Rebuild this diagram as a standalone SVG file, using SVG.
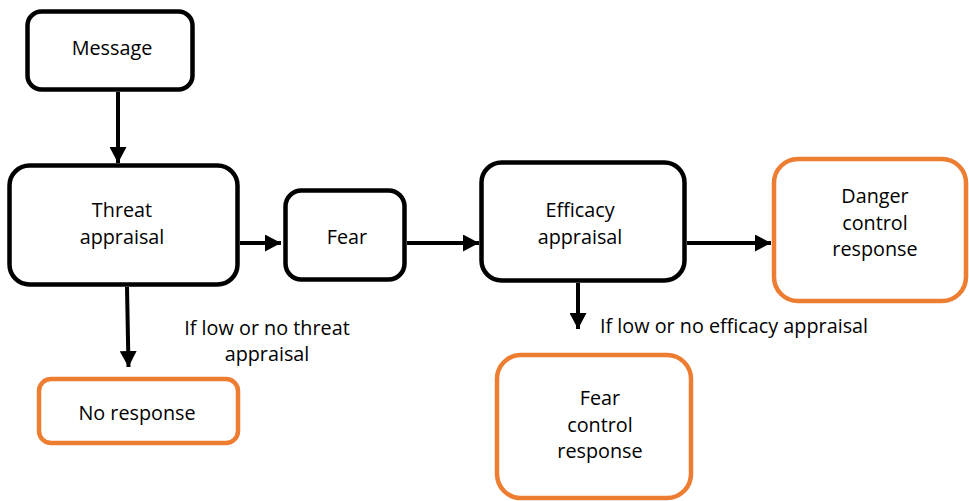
<svg xmlns="http://www.w3.org/2000/svg" width="969" height="501" viewBox="0 0 969 501">
<style>
.box{fill:#fff;stroke:#000;stroke-width:4.5}
.obox{fill:#fff;stroke:#ED7D31;stroke-width:4.5}
.t{font-family:"Open Sans","Noto Sans","Liberation Sans",sans-serif;font-size:19.8px;fill:#000;text-anchor:middle}
.tl{font-family:"Open Sans","Noto Sans","Liberation Sans",sans-serif;font-size:19.8px;fill:#000}
.c{stroke:#000;stroke-width:4;fill:none}
</style>
<defs>
<marker id="ah" markerUnits="userSpaceOnUse" markerWidth="17" markerHeight="17" refX="16" refY="8.5" orient="auto">
<path d="M0,0 L16,8.5 L0,17 z" fill="#000"/>
</marker>
</defs>
<rect width="969" height="501" fill="#fff"/>
<g id="connectors">
<line class="c" x1="118" y1="92" x2="118" y2="163" marker-end="url(#ah)"/>
<line class="c" x1="240" y1="243" x2="281" y2="243" marker-end="url(#ah)"/>
<line class="c" x1="407" y1="243" x2="479" y2="243" marker-end="url(#ah)"/>
<line class="c" x1="687" y1="243" x2="771" y2="243" marker-end="url(#ah)"/>
<line class="c" x1="127" y1="287" x2="128.5" y2="367" marker-end="url(#ah)"/>
<line class="c" x1="578" y1="283" x2="578" y2="329" marker-end="url(#ah)"/>
</g>
<g id="message">
<rect class="box" x="27.5" y="11.5" width="165" height="78" rx="14"/>
<text class="t" x="112" y="55">Message</text>
</g>
<g id="threat">
<rect class="box" x="9.5" y="165.5" width="228" height="119" rx="20"/>
<text class="t" x="122" y="217">Threat</text>
<text class="t" x="122" y="244">appraisal</text>
</g>
<g id="fear">
<rect class="box" x="285.5" y="190.5" width="119" height="89" rx="16"/>
<text class="t" x="347" y="244">Fear</text>
</g>
<g id="efficacy">
<rect class="box" x="481.5" y="162.5" width="203" height="118" rx="20"/>
<text class="t" x="580" y="217">Efficacy</text>
<text class="t" x="580" y="244">appraisal</text>
</g>
<g id="danger">
<rect class="obox" x="774" y="159" width="192" height="142" rx="24"/>
<text class="t" x="875" y="203">Danger</text>
<text class="t" x="875" y="230">control</text>
<text class="t" x="875" y="256">response</text>
</g>
<g id="noresponse">
<rect class="obox" x="39" y="379" width="199" height="64" rx="12"/>
<text class="t" x="137" y="420">No response</text>
</g>
<g id="fearcontrol">
<rect class="obox" x="497" y="355" width="194" height="143" rx="24"/>
<text class="t" x="600" y="405">Fear</text>
<text class="t" x="600" y="432">control</text>
<text class="t" x="600" y="458">response</text>
</g>
<g id="labels">
<text class="t" x="267" y="335">If low or no threat</text>
<text class="t" x="267" y="361">appraisal</text>
<text class="tl" x="600" y="333">If low or no efficacy appraisal</text>
</g>
</svg>
